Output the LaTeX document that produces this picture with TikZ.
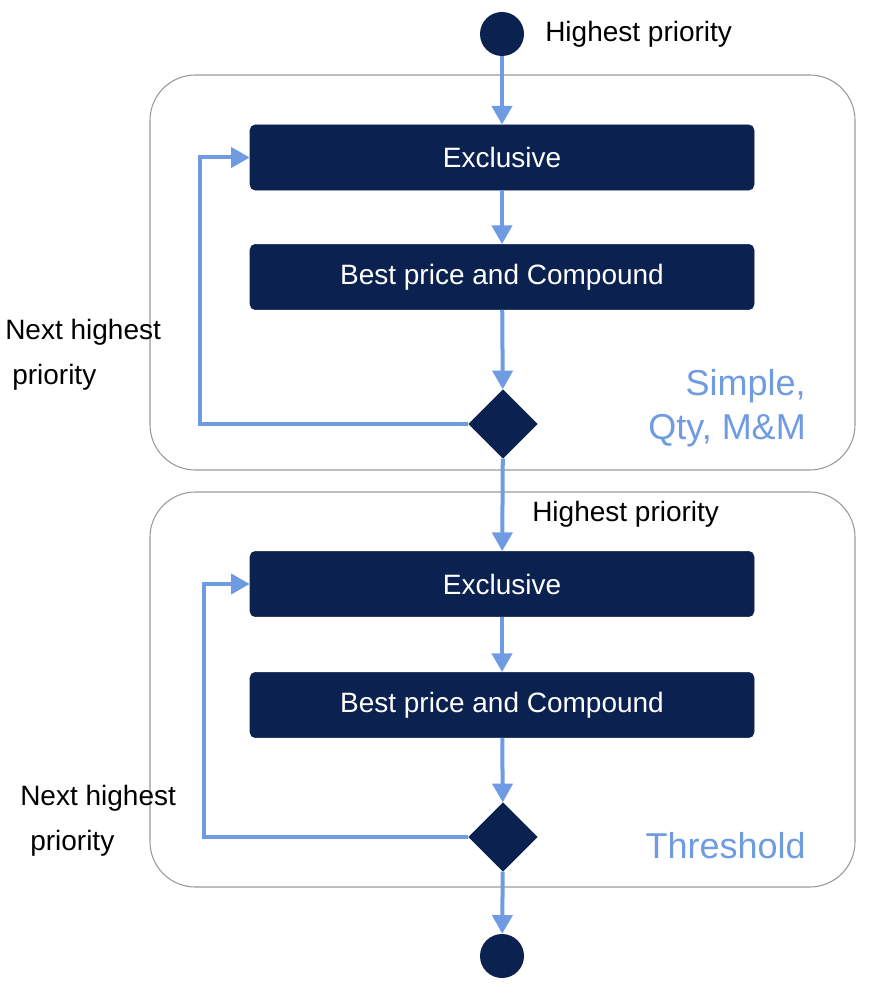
\documentclass[tikz,border=0pt]{standalone}
\usepackage{fontspec}
\setmainfont{Liberation Sans}
\usetikzlibrary{shapes.geometric,arrows.meta}
\definecolor{navy}{HTML}{0B2250}
\definecolor{lblue}{HTML}{6F9BE3}
\begin{document}
\begin{tikzpicture}[x=0.75pt,y=-0.75pt,
  box/.style={fill=navy,draw=navy,rounded corners=4pt,minimum width=378pt,minimum height=49pt,text=white,font=\fontsize{21}{25}\selectfont,inner sep=0},
  dia/.style={diamond,fill=navy,inner sep=0,minimum width=52pt,minimum height=52pt},
  dot/.style={circle,fill=navy,inner sep=0,minimum size=33pt},
  flow/.style={draw=lblue,line width=3pt,-{Triangle[width=15pt,length=14pt]}},
  cont/.style={draw=gray!80,line width=0.8pt,rounded corners=34pt},
  lab/.style={font=\fontsize{21}{25}\selectfont,inner sep=0},
  blab/.style={font=\fontsize{27}{33}\selectfont,text=lblue,inner sep=0,align=right}]
\useasboundingbox (0,0) rectangle (892,1005);
\draw[cont] (150,75) rectangle (855,470);
\draw[cont] (150,492) rectangle (855,887);
\node[dot] (s) at (502,34) {};
\node[lab,anchor=west] (h1) at (545,34) {Highest priority};
\node[box] (e1) at (502,157.5) {Exclusive};
\node[box] (b1) at (502,277) {Best price and Compound};
\node[dia] (d1) at (503,424) {};
\node[box] (e2) at (502,584) {Exclusive};
\node[box] (b2) at (502,705) {Best price and Compound};
\node[dia] (d2) at (503,837) {};
\node[dot] (t) at (502,956) {};
\node[lab,anchor=west] (h2) at (532,514) {Highest priority};
\node[lab,anchor=west] (n1a) at (5,332) {Next highest};
\node[lab,anchor=west] (n1b) at (12,377) {priority};
\node[lab,anchor=west] (n2a) at (20,798) {Next highest};
\node[lab,anchor=west] (n2b) at (30,843) {priority};
\node[blab,anchor=east] (sq) at (806,408) {Simple,\\Qty, M\&M};
\node[blab,anchor=east] (th) at (806,846) {Threshold};
\draw[flow] (s) -- (e1);
\draw[flow] (e1) -- (b1);
\draw[flow] (b1) -- (d1);
\draw[flow] (d1) -- (e2);
\draw[flow] (e2) -- (b2);
\draw[flow] (b2) -- (d2);
\draw[flow] (d2) -- (t);
\draw[flow] (d1.west) -- (200,424) -- (200,157.5) -- (e1.west);
\draw[flow] (d2.west) -- (204,837) -- (204,584) -- (e2.west);
\end{tikzpicture}
\end{document}
